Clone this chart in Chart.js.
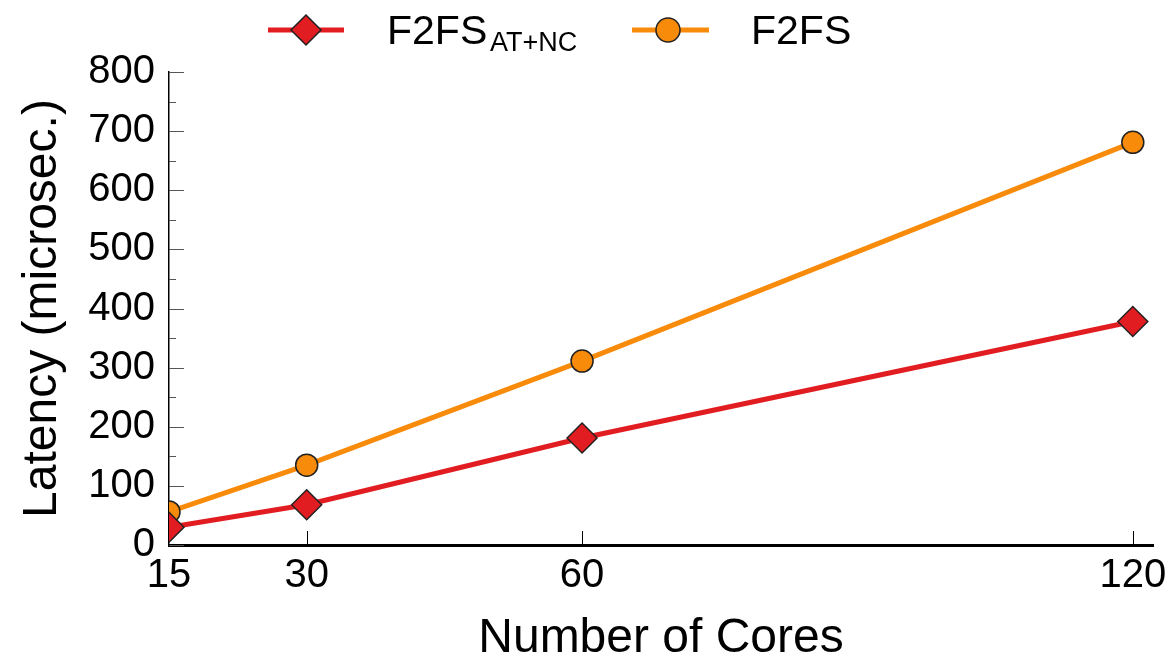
<!DOCTYPE html>
<html>
<head>
<meta charset="utf-8">
<script src="https://cdn.jsdelivr.net/npm/chart.js@4.4.1/dist/chart.umd.min.js"></script>
<style>
  html, body { margin: 0; padding: 0; background: #fff; }
  #wrap { width: 1175px; height: 663px; position: relative; }
</style>
</head>
<body>
<div id="wrap"><canvas id="latChart"></canvas></div>
<script>
// values
var cores = [15, 30, 60, 120];
var latencyAtNc = [30, 68, 181, 378];
var latencyF2fs = [56, 135, 311, 681];
var xTicks = [15, 30, 60, 120];
var yMin = 0, yMax = 800, yStep = 100;

var red = '#e21d22';
var orange = '#f98b0b';
var font = '"Liberation Sans", Arial, Helvetica, sans-serif';

function toPoints(xs, ys) {
    return xs.map(function (x, i) { return { x: x, y: ys[i] }; });
}

function diamond(ctx, x, y, r) {
    ctx.beginPath();
    ctx.moveTo(x, y - r);
    ctx.lineTo(x + r, y);
    ctx.lineTo(x, y + r);
    ctx.lineTo(x - r, y);
    ctx.closePath();
}

// inward tick marks, major + minor
var tickPlugin = {
    id: 'inTicks',
    beforeDatasetsDraw: function (chart) {
        var ctx = chart.ctx, a = chart.chartArea;
        var xs = chart.scales.x, ys = chart.scales.y;
        ctx.save();
        ctx.strokeStyle = '#555';
        ctx.lineWidth = 1;
        ctx.beginPath();
        for (var v = yMin; v <= yMax; v += yStep / 2) {
            var y = Math.round(ys.getPixelForValue(v)) + 0.5;
            var len = (v % yStep === 0) ? 15 : 7;
            ctx.moveTo(a.left, y);
            ctx.lineTo(a.left + len, y);
        }
        ctx.stroke();
        ctx.strokeStyle = '#000';
        ctx.beginPath();
        xTicks.slice(1).forEach(function (v) {
            var x = Math.round(xs.getPixelForValue(v)) + 0.5;
            ctx.moveTo(x, a.bottom);
            ctx.lineTo(x, a.bottom - 14);
        });
        ctx.stroke();
        ctx.restore();
    }
};

// legend with subscript text
var legendPlugin = {
    id: 'subLegend',
    afterDraw: function (chart) {
        var ctx = chart.ctx;
        var ly = 30;
        ctx.save();
        ctx.lineWidth = 5;

        ctx.strokeStyle = red;
        ctx.beginPath(); ctx.moveTo(268, ly); ctx.lineTo(344, ly); ctx.stroke();
        diamond(ctx, 306, ly, 15);
        ctx.fillStyle = red; ctx.fill();
        ctx.lineWidth = 1.5; ctx.strokeStyle = '#222'; ctx.stroke();

        ctx.lineWidth = 5;
        ctx.strokeStyle = orange;
        ctx.beginPath(); ctx.moveTo(632, ly); ctx.lineTo(709, ly); ctx.stroke();
        ctx.beginPath(); ctx.arc(668, ly, 12, 0, Math.PI * 2);
        ctx.fillStyle = orange; ctx.fill();
        ctx.lineWidth = 1.5; ctx.strokeStyle = '#222'; ctx.stroke();

        ctx.fillStyle = '#000';
        ctx.textBaseline = 'alphabetic';
        ctx.font = '41px ' + font;
        ctx.fillText('F2FS', 387, 44);
        ctx.font = '27px ' + font;
        ctx.fillText('AT+NC', 490, 51);
        ctx.font = '41px ' + font;
        ctx.fillText('F2FS', 751, 44);
        ctx.restore();
    }
};

var ctx = document.getElementById('latChart').getContext('2d');
var latChart = new Chart(ctx, {
    type: 'line',
    data: {
        datasets: [
            {
                label: 'F2FS AT+NC',
                data: toPoints(cores, latencyAtNc),
                borderColor: red,
                backgroundColor: red,
                borderWidth: 5,
                pointStyle: 'rectRot',
                pointRadius: 15,
                pointBackgroundColor: red,
                pointBorderColor: '#222',
                pointBorderWidth: 1.5,
                tension: 0,
                clip: 0
            },
            {
                label: 'F2FS',
                data: toPoints(cores, latencyF2fs),
                borderColor: orange,
                backgroundColor: orange,
                borderWidth: 5,
                pointStyle: 'circle',
                pointRadius: 11,
                pointBackgroundColor: orange,
                pointBorderColor: '#222',
                pointBorderWidth: 1.5,
                tension: 0,
                clip: 0
            }
        ]
    },
    options: {
        responsive: true,
        maintainAspectRatio: false,
        animation: false,
        layout: { padding: { top: 72, right: 22, bottom: 0, left: 0 } },
        plugins: {
            legend: { display: false },
            tooltip: { enabled: false }
        },
        scales: {
            x: {
                type: 'linear',
                min: 15,
                max: 122.2,
                afterBuildTicks: function (s) {
                    s.ticks = xTicks.map(function (v) { return { value: v }; });
                },
                afterFit: function (s) { s.height = 118; },
                grid: { display: false, drawTicks: false },
                border: { display: true, color: '#000', width: 3 },
                ticks: {
                    font: { family: font, size: 40 },
                    color: '#000',
                    padding: 7,
                    maxRotation: 0,
                    autoSkip: false
                },
                title: {
                    display: true,
                    text: 'Number of Cores',
                    font: { family: font, size: 48, lineHeight: 1 },
                    color: '#000',
                    padding: 0
                }
            },
            y: {
                min: yMin,
                max: yMax,
                afterFit: function (s) { s.width = 169; },
                grid: { display: false, drawTicks: false },
                border: { display: true, color: '#000', width: 1.5 },
                ticks: {
                    stepSize: yStep,
                    font: { family: font, size: 40 },
                    color: '#000',
                    padding: 14
                },
                title: {
                    display: true,
                    text: 'Latency (microsec.)',
                    font: { family: font, size: 48, lineHeight: 1 },
                    color: '#000',
                    padding: { top: 19, bottom: 0 }
                }
            }
        }
    },
    plugins: [tickPlugin, legendPlugin]
});
</script>
</body>
</html>
